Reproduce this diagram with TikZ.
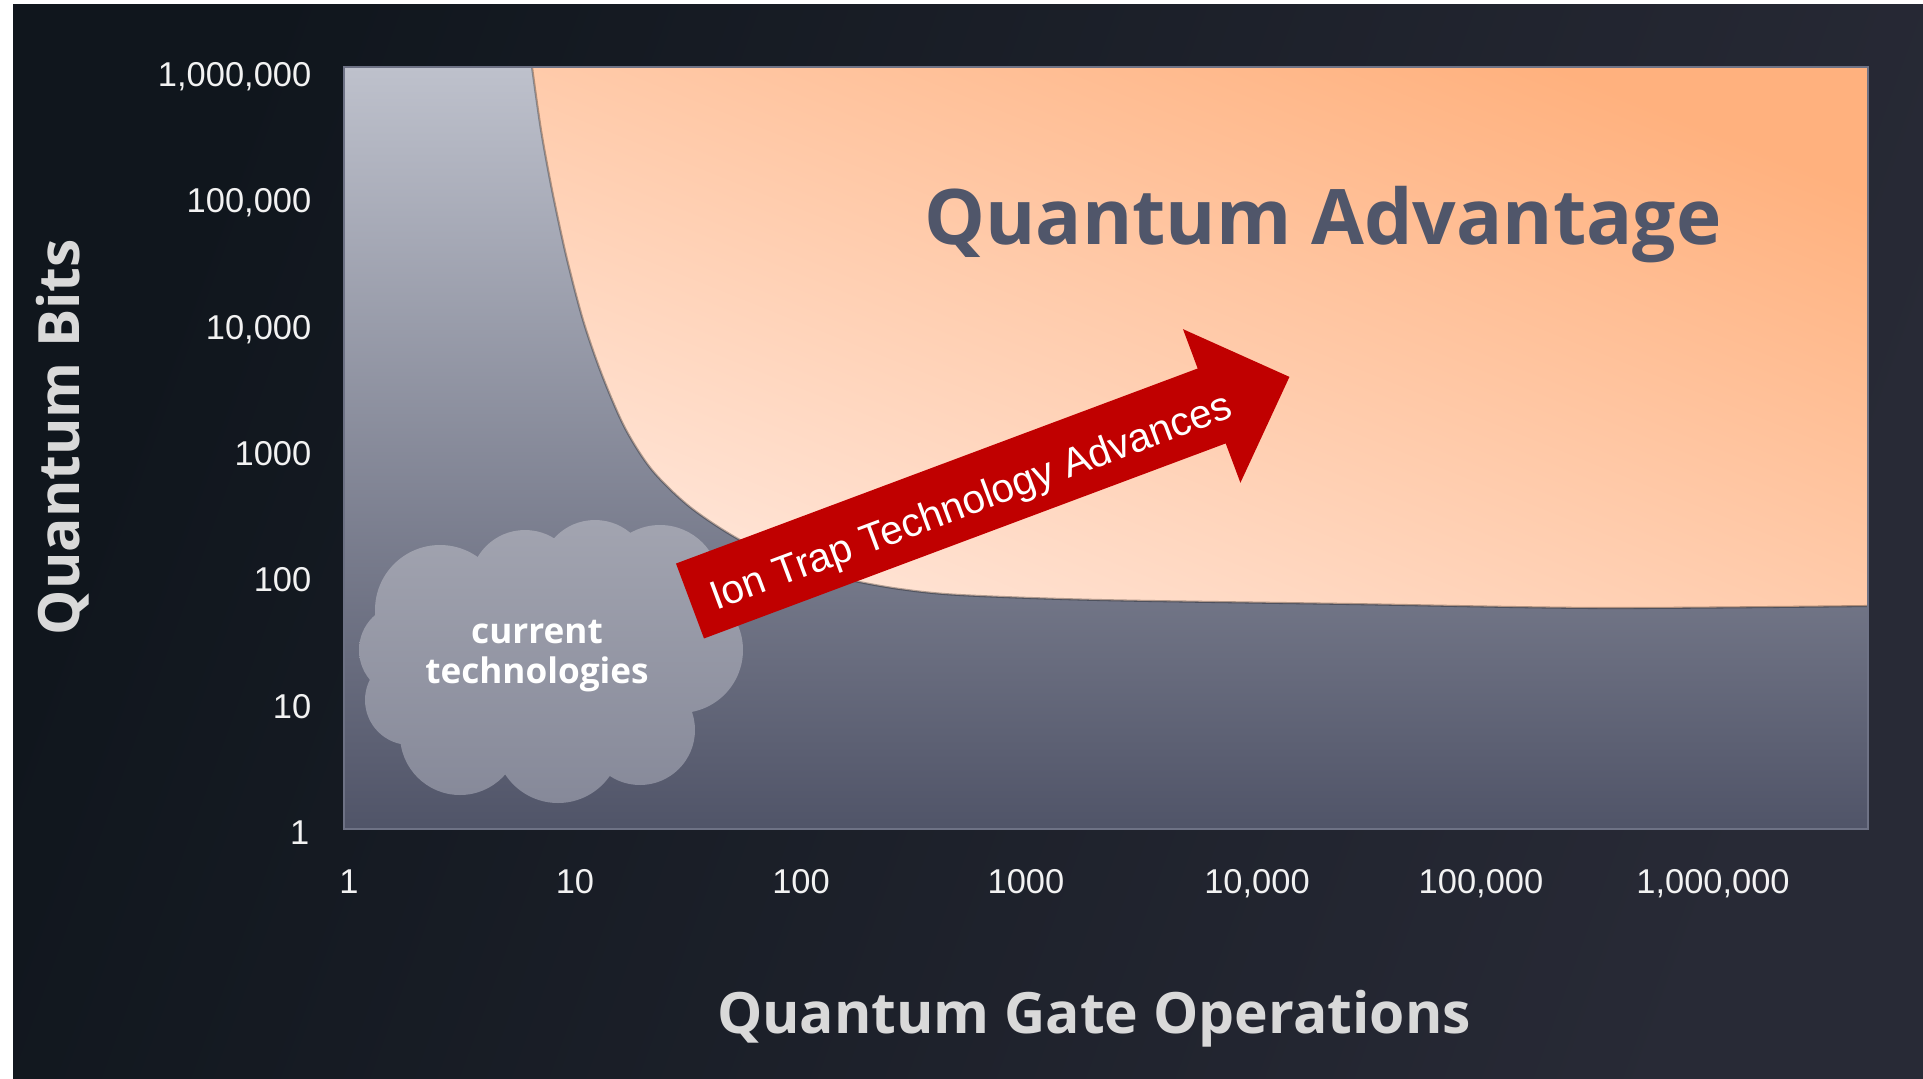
\documentclass[tikz,border=0pt]{standalone}
\usepackage{fontspec}
\setmainfont{Liberation Sans}
\newfontfamily\titlefont{Open Sans}
\definecolor{bgA}{HTML}{10161D}
\definecolor{bgB}{HTML}{282A36}
\definecolor{plotTop}{HTML}{BEC1CC}
\definecolor{plotBot}{HTML}{505468}
\definecolor{orLight}{HTML}{FFE4D6}
\definecolor{orDark}{HTML}{FFB17E}
\definecolor{advText}{HTML}{50566A}
\definecolor{cloudTop}{HTML}{A2A4B0}
\definecolor{cloudBot}{HTML}{868999}
\definecolor{arrowRed}{HTML}{C00000}
\definecolor{tickText}{HTML}{F2F2F2}
\definecolor{axisText}{HTML}{D9D9D9}
\definecolor{borderC}{HTML}{6E7285}
\begin{document}
\begin{tikzpicture}[x=0.01cm, y=-0.01cm,
  ticklbl/.style={text=tickText, font=\fontsize{9.8pt}{11pt}\selectfont, inner sep=0pt},
  axistitle/.style={text=axisText, font=\titlefont\bfseries\fontsize{16.2pt}{19pt}\selectfont, inner sep=0pt},
  cloudlbl/.style={text=white, font=\titlefont\bfseries\fontsize{10pt}{11pt}\selectfont, inner sep=0pt, anchor=base},
  advlbl/.style={text=advText, font=\titlefont\bfseries\fontsize{21.8pt}{26pt}\selectfont, inner sep=0pt, anchor=base},
  arrowlbl/.style={text=white, font=\fontsize{11.5pt}{13pt}\selectfont, inner sep=0pt, anchor=base},
]
\useasboundingbox (0,0) rectangle (1923,1078);
\fill[white] (0,0) rectangle (1923,1078);
\shade[left color=bgA, right color=bgB, shading angle=70] (13,4) rectangle (1923,1078);
% plot area
\shade[top color=plotTop, bottom color=plotBot] (344,67) rectangle (1868,829);
% quantum advantage region
\shade[top color=orDark, bottom color=orLight, shading angle=-22]
  plot[smooth] coordinates {(532,67) (541,130) (552,190) (566,255) (583,320) (602,375) (625,428) (652,470) (690,507) (740,540) (800,567) (850,580) (900,589) (960,595) (1100,600) (1350,604) (1600,608) (1868,606)}
  -- (1868,67) -- cycle;
\draw[black, opacity=0.3, line width=0.6pt]
  plot[smooth] coordinates {(532,67) (541,130) (552,190) (566,255) (583,320) (602,375) (625,428) (652,470) (690,507) (740,540) (800,567) (850,580) (900,589) (960,595) (1100,600) (1350,604) (1600,608) (1868,606)};
\draw[borderC, line width=0.5pt] (344,67) rectangle (1868,829);
% cloud
\shade[top color=cloudTop, bottom color=cloudBot]
  (440,610) circle[radius=65]
  (525,585) circle[radius=55]
  (595,575) circle[radius=55]
  (660,585) circle[radius=60]
  (680,650) circle[radius=63]
  (640,730) circle[radius=55]
  (558,740) circle[radius=63]
  (460,735) circle[radius=60]
  (410,700) circle[radius=45]
  (405,650) circle[radius=46]
  (550,660) circle[radius=110];
\node[cloudlbl] (cur) at (537,643) {current};
\node[cloudlbl] (tech) at (537,683) {technologies};
% arrow
\begin{scope}[shift={(690,601)}, rotate=20.5]
\fill[arrowRed] (0,-40) -- (557,-40) -- (557,-82) -- (640,0) -- (557,82) -- (557,40) -- (0,40) -- cycle;
\node[arrowlbl, rotate=20.5] (ion) at (298,18) {Ion Trap Technology Advances};
\end{scope}
% title
\node[advlbl] (adv) at (1323,244) {Quantum Advantage};
% y tick labels
\node[ticklbl, anchor=base east] (y6) at (312,86) {1,000,000};
\node[ticklbl, anchor=base east] (y5) at (312,212) {100,000};
\node[ticklbl, anchor=base east] (y4) at (312,339) {10,000};
\node[ticklbl, anchor=base east] (y3) at (312,465) {1000};
\node[ticklbl, anchor=base east] (y2) at (312,591) {100};
\node[ticklbl, anchor=base east] (y1) at (312,718) {10};
\node[ticklbl, anchor=base east] (y0) at (310,844) {1};
% x tick labels
\node[ticklbl, anchor=base] (x0) at (349,893) {1};
\node[ticklbl, anchor=base] (x1) at (575,893) {10};
\node[ticklbl, anchor=base] (x2) at (801,893) {100};
\node[ticklbl, anchor=base] (x3) at (1026,893) {1000};
\node[ticklbl, anchor=base] (x4) at (1257,893) {10,000};
\node[ticklbl, anchor=base] (x5) at (1481,893) {100,000};
\node[ticklbl, anchor=base] (x6) at (1713,893) {1,000,000};
% axis titles
\node[axistitle, anchor=base, rotate=90] (ytitle) at (80,437) {Quantum Bits};
\node[axistitle, anchor=base] (xtitle) at (1094,1033) {Quantum Gate Operations};
\end{tikzpicture}
\end{document}
